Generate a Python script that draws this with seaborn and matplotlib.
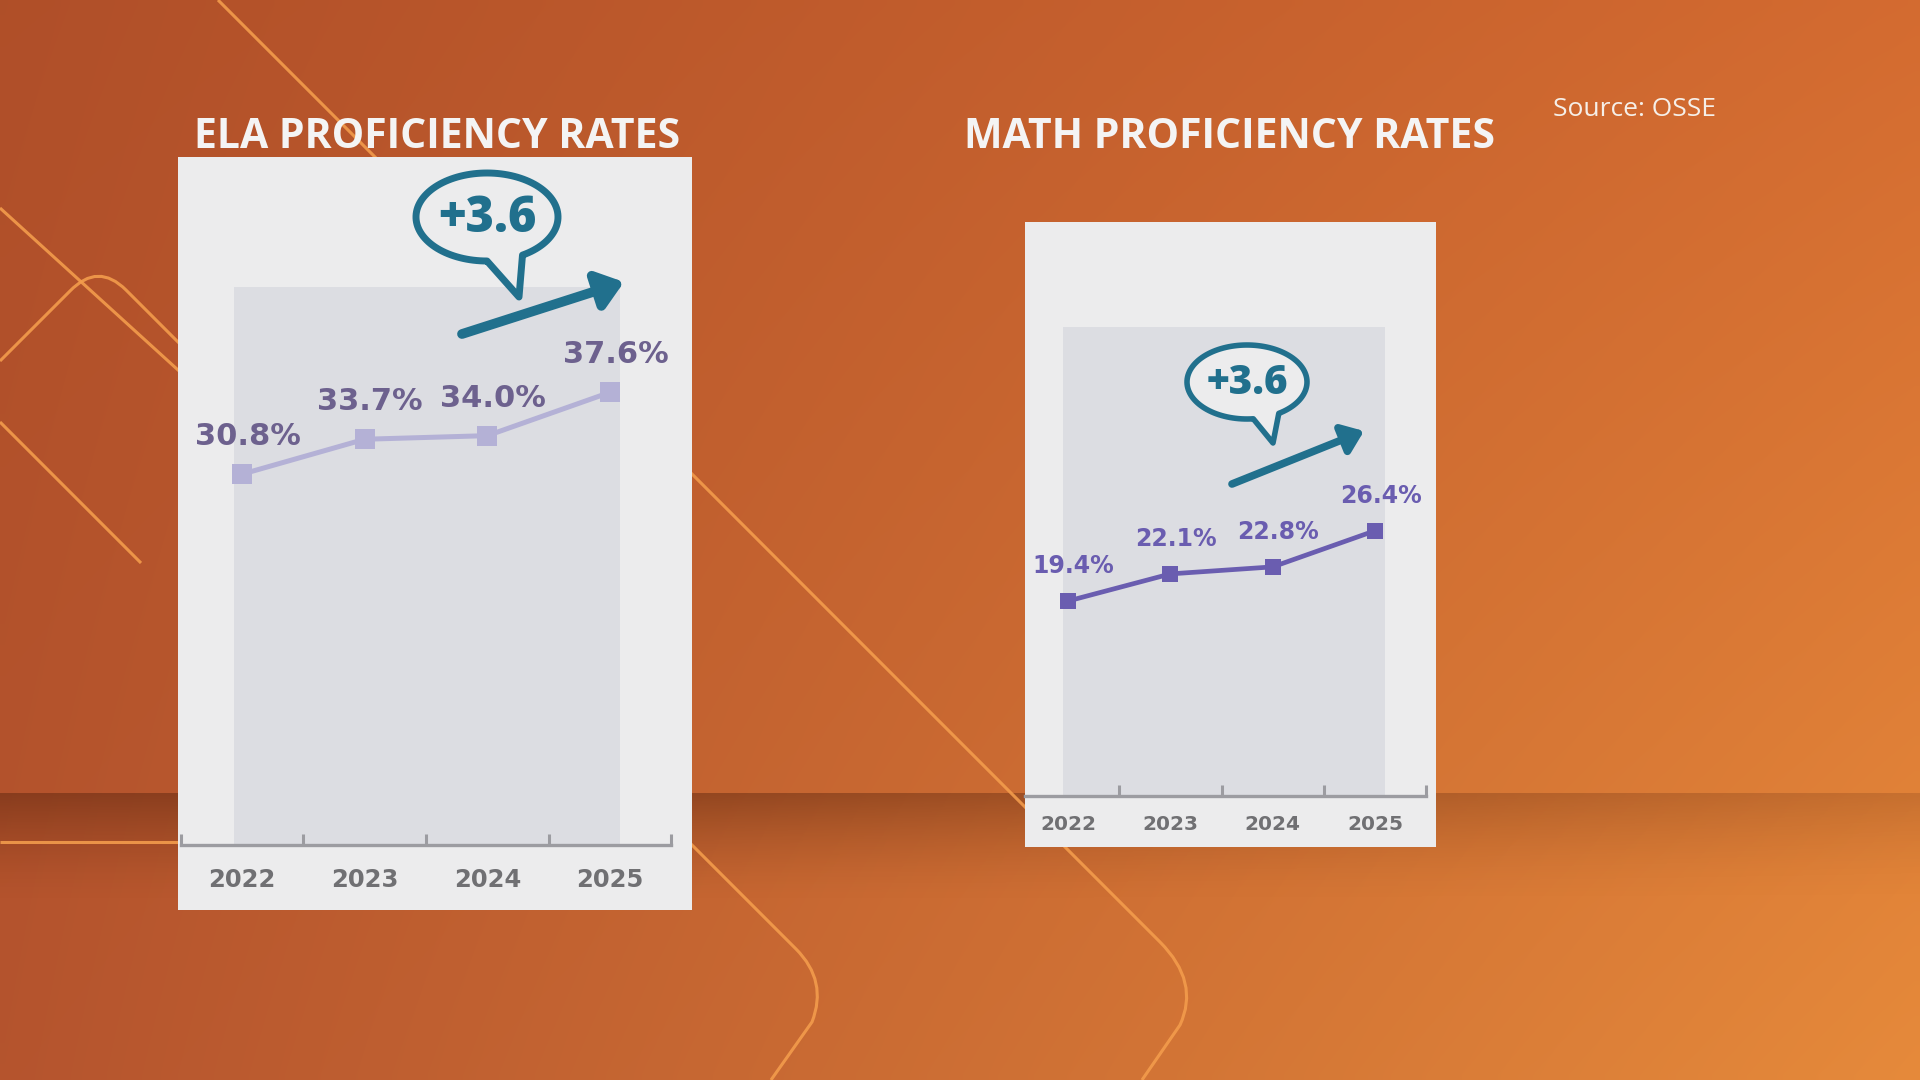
import numpy as np
import pandas as pd
import matplotlib
matplotlib.use("Agg")
import matplotlib.pyplot as plt
import seaborn as sns
from matplotlib.patches import Rectangle, PathPatch, FancyArrowPatch
from matplotlib.path import Path

years = ["2022", "2023", "2024", "2025"]
ela_rates = [30.8, 33.7, 34.0, 37.6]
math_rates = [19.4, 22.1, 22.8, 26.4]
ela_gain = "+3.6"
math_gain = "+3.6"
titles = ["ELA PROFICIENCY RATES", "MATH PROFICIENCY RATES"]
source_note = "Source: OSSE"

W, H = 1920, 1080
TEAL = "#21708d"
AXIS_GREY = "#9c9ca1"
YEAR_GREY = "#707073"
PANEL = "#ececed"
INNER = "#dcdde2"

sns.set_theme(style="white")
plt.rcParams["font.family"] = ["DejaVu Sans"]

fig = plt.figure(figsize=(19.2, 10.8), dpi=100)

# ---------- orange backdrop ----------
bg = fig.add_axes([0, 0, 1, 1], zorder=0)
bg.set_xlim(0, W)
bg.set_ylim(H, 0)
bg.axis("off")

gx = np.linspace(0, 1, 192)[:, None]
gy = np.linspace(0, 1, 108)[:, None, None]
tl, tr = np.array([0.69, 0.31, 0.16]), np.array([0.83, 0.42, 0.19])
bl, br = np.array([0.71, 0.33, 0.18]), np.array([0.90, 0.54, 0.23])
top = tl + (tr - tl) * gx
bot = bl + (br - bl) * gx
grad = top[None] * (1 - gy) + bot[None] * gy
bg.imshow(grad, extent=(0, W, H, 0), aspect="auto", interpolation="bilinear", zorder=0)

# dark "floor" band
sy = np.linspace(0, 1, 60)[:, None]
sx = np.linspace(0, 1, 192)[None, :]
shade = np.zeros((60, 192, 4))
shade[..., 0], shade[..., 1], shade[..., 2] = 0.33, 0.13, 0.05
shade[..., 3] = 0.45 * (1 - sy) ** 1.6 * np.clip(1.3 - sx * 0.9, 0.25, 1)
bg.imshow(shade, extent=(0, W, 905, 793), aspect="auto", interpolation="bilinear", zorder=1)

# thin decorative lines
deco = "#f39c4c"
M, L, C = Path.MOVETO, Path.LINETO, Path.CURVE3
deco_paths = [
    ([(218, 0), (1160, 942), (1200, 982), (1180, 1025), (1142, 1080)], [M, L, C, C, L]),
    ([(500, 653), (796, 949), (828, 981), (812, 1022), (771, 1080)], [M, L, C, C, L]),
    ([(0, 208), (200, 390)], [M, L]),
    ([(0, 361), (70, 291), (98, 262), (126, 290), (200, 364)], [M, L, C, C, L]),
    ([(0, 422), (141, 563)], [M, L]),
    ([(0, 842), (200, 842)], [M, L]),
]
for verts, codes in deco_paths:
    bg.add_patch(PathPatch(Path(verts, codes), facecolor="none", edgecolor=deco,
                           lw=2.2, alpha=0.9, zorder=2))


# ---------- chart panels ----------
def draw_panel(rect, first_px, step_px, zero_px, unit_px, inner, values,
               line_color, label_color, lw, ms, label_size, label_off,
               year_size, year_pad):
    x0, y0, x1, y1 = rect
    ax = fig.add_axes([x0 / W, 1 - y1 / H, (x1 - x0) / W, (y1 - y0) / H], zorder=2)
    ax.set_facecolor(PANEL)
    ax.set_axisbelow(False)

    df = pd.DataFrame({"pos": range(len(years)), "year": years, "rate": values})
    sns.lineplot(data=df, x="pos", y="rate", ax=ax, color=line_color, lw=lw,
                 marker="s", markersize=ms, markeredgewidth=0, zorder=4)

    xlim = ((x0 - first_px) / step_px, (x1 - first_px) / step_px)
    ylim = ((zero_px - y1) / unit_px, (zero_px - y0) / unit_px)
    ax.set_xlim(*xlim)
    ax.set_ylim(*ylim)

    ix0, iy0, ix1 = inner
    ax.add_patch(Rectangle(((ix0 - first_px) / step_px, 0),
                           (ix1 - ix0) / step_px, (zero_px - iy0) / unit_px,
                           facecolor=INNER, edgecolor="none", zorder=0.2))

    for i, v in enumerate(values):
        ax.annotate(f"{v:.1f}%", (i, v), xytext=label_off, textcoords="offset points",
                    ha="center", va="center", fontsize=label_size,
                    fontweight="bold", color=label_color, zorder=5)

    for side in ["left", "top", "right"]:
        ax.spines[side].set_visible(False)
    ax.spines["bottom"].set_position(("data", 0))
    ax.spines["bottom"].set_bounds(max(-0.5, xlim[0]), len(years) - 0.5)
    ax.spines["bottom"].set_color(AXIS_GREY)
    ax.spines["bottom"].set_linewidth(2.4)
    ax.spines["bottom"].set_zorder(3)

    edges = [t for t in np.arange(-0.5, len(years)) if t >= xlim[0]]
    ax.set_xticks(edges, labels=[])
    ax.set_xticks(range(len(years)), labels=years, minor=True)
    ax.tick_params(axis="x", which="major", bottom=True, direction="in",
                   length=8, width=2.2, color=AXIS_GREY)
    ax.tick_params(axis="x", which="minor", bottom=True, length=0,
                   pad=year_pad, labelsize=year_size, labelcolor=YEAR_GREY)
    for lbl in ax.get_xticklabels(minor=True):
        lbl.set_fontweight("bold")
    ax.set_yticks([])
    ax.set_xlabel("")
    ax.set_ylabel("")
    return ax


draw_panel((178, 157, 692, 910), 242, 122.7, 845, 12.04, (234, 287, 620),
           ela_rates, "#b4b1d6", "#6d618e", 3.6, 14, 22, (4, 27), 17.5, 16.5)
draw_panel((1025, 222, 1436, 847), 1068, 102.4, 796, 10.05, (1063, 327, 1385),
           math_rates, "#6a5db0", "#6a5db0", 3.4, 11.5, 17, (4, 25), 14.5, 14)

# ---------- overlay: titles, callouts ----------
ov = fig.add_axes([0, 0, 1, 1], zorder=5)
ov.set_xlim(0, W)
ov.set_ylim(H, 0)
ov.axis("off")

heading_font = ["Open Sans", "DejaVu Sans"]
ov.text(437, 148, titles[0], ha="center", va="baseline", fontsize=29.5,
        fontweight="bold", color="#f4f4f4", family=heading_font)
ov.text(1229, 148, titles[1], ha="center", va="baseline", fontsize=29.5,
        fontweight="bold", color="#f4f4f4", family=heading_font)
ov.text(1553, 116, source_note, ha="left", va="baseline", fontsize=19,
        color="#f6efe8", family=heading_font)


def bubble(cx, cy, rx, ry, a0, a1, tip, text, size, stroke):
    th = np.radians(np.linspace(a1, a0 + 360, 120))
    pts = list(zip(cx + rx * np.cos(th), cy + ry * np.sin(th)))
    pts.append(tip)
    pts.append(pts[0])
    codes = [Path.MOVETO] + [Path.LINETO] * (len(pts) - 2) + [Path.CLOSEPOLY]
    ov.add_patch(PathPatch(Path(pts, codes), facecolor=PANEL, edgecolor=TEAL,
                           lw=stroke, joinstyle="round"))
    ov.text(cx, cy + 2, text, ha="center", va="center", fontsize=size,
            fontweight=800, color=TEAL, family=heading_font)


def arrow(start, end, lw, scale):
    ov.add_patch(FancyArrowPatch(start, end, arrowstyle="-|>,head_length=0.5,head_width=0.38",
                                 mutation_scale=scale, color=TEAL, lw=lw,
                                 capstyle="round", shrinkA=0, shrinkB=0))


bubble(487, 217, 71, 44, 60, 90, (519, 297), ela_gain, 35, 5)
arrow((462, 334), (624, 282), 7, 30)

bubble(1247, 382, 60, 37, 58, 84, (1273, 443), math_gain, 29, 4)
arrow((1232, 484), (1364, 431), 5.5, 24)

fig.savefig("out.png", dpi=100)
